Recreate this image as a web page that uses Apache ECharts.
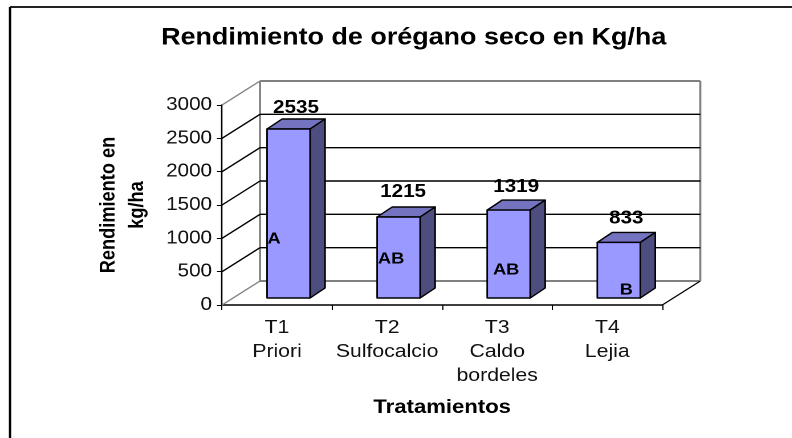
<!DOCTYPE html>
<html>
<head>
<meta charset="utf-8">
<style>html,body{margin:0;padding:0;background:#fff;overflow:hidden}#c{height:438px;transform-origin:0 0}</style>
<script src="https://cdn.jsdelivr.net/npm/echarts@6/dist/echarts.min.js"></script>
</head>
<body>
<div id="c"></div>
<script>
const categories = ['T1\nPriori', 'T2\nSulfocalcio', 'T3\nCaldo\nbordeles', 'T4\nLejia'];
const yields = [2535, 1215, 1319, 833];
const letters = ['A', 'AB', 'AB', 'B'];
const letterLevels = [900, 600, 435, 135];
const yTicks = [0, 500, 1000, 1500, 2000, 2500, 3000];

// The reference image is stretched horizontally; the page reproduces that stretch.
const XS = 1.14;
const X = px => px / XS;
const letterShift = [7, 14, 19, 29];
const labelLift = [11, 15, 13, 14];
const labelShift = [0, -3, 0, 0];
const FONT = '"Liberation Sans", Arial, sans-serif';
const WALL_DX = X(38), WALL_DY = 24;
const BAR_DX = X(15), BAR_DY = 10, BAR_W = X(43), BASE_DX = X(11.5), BASE_DY = 7;
const GREY = '#808080', INK = '#000';

const host = document.getElementById('c');
host.style.width = X(792) + 'px';
host.style.transform = 'scaleX(' + XS + ')';

function wallItem(params, api) {
  const v = api.value(0), cs = params.coordSys;
  const y = api.coord([0, v])[1];
  const x0 = cs.x, x1 = cs.x + cs.width;
  const edge = v === 0 || v === yTicks[yTicks.length - 1];
  const col = edge ? GREY : INK;
  const kids = [
    { type: 'line', shape: { x1: x0, y1: y, x2: x0 + WALL_DX, y2: y - WALL_DY }, style: { stroke: col, lineWidth: 1.3 } },
    { type: 'line', shape: { x1: x0 + WALL_DX, y1: y - WALL_DY, x2: x1 + WALL_DX, y2: y - WALL_DY }, style: { stroke: col, lineWidth: edge ? 2 : 1.4 } }
  ];
  if (v === 0) {
    kids.push({ type: 'line', shape: { x1: x1, y1: y, x2: x1 + WALL_DX, y2: y - WALL_DY }, style: { stroke: INK, lineWidth: 1.1 } });
    const top = api.coord([0, yTicks[yTicks.length - 1]])[1] - WALL_DY;
    kids.push({ type: 'line', shape: { x1: x0 + WALL_DX, y1: y - WALL_DY, x2: x0 + WALL_DX, y2: top }, style: { stroke: GREY, lineWidth: 1.8 } });
    kids.push({ type: 'line', shape: { x1: x1 + WALL_DX, y1: y - WALL_DY, x2: x1 + WALL_DX, y2: top }, style: { stroke: GREY, lineWidth: 1.8 } });
  }
  return { type: 'group', children: kids };
}

function barItem(params, api) {
  const i = params.dataIndex;
  const top = api.coord([i, api.value(1)]);
  const bot = api.coord([i, 0]);
  const l = bot[0] + BASE_DX - BAR_W / 2, r = l + BAR_W;
  const b = bot[1] - BASE_DY, t = top[1] - BASE_DY;
  const edge = { stroke: INK, lineWidth: 1.4, lineJoin: 'round' };
  const levelY = api.coord([i, letterLevels[i]])[1] - BASE_DY;
  return { type: 'group', children: [
    { type: 'polygon', shape: { points: [[l, t], [l + BAR_DX, t - BAR_DY], [r + BAR_DX, t - BAR_DY], [r, t]] }, style: { fill: '#7373BF', ...edge } },
    { type: 'polygon', shape: { points: [[r, t], [r + BAR_DX, t - BAR_DY], [r + BAR_DX, b - BAR_DY], [r, b]] }, style: { fill: '#4D4D80', ...edge } },
    { type: 'rect', shape: { x: l, y: t, width: BAR_W, height: b - t }, style: { fill: '#9999FF', ...edge } },
    { type: 'text', style: { x: l + BAR_W / 2 + BAR_DX / 2 + X(labelShift[i]), y: t - BAR_DY - labelLift[i], text: String(api.value(1)), fill: INK, font: 'bold 18.1px ' + FONT, align: 'center', verticalAlign: 'middle' } },
    { type: 'text', style: { x: l + X(letterShift[i]), y: levelY + 1, text: letters[i], fill: INK, font: 'bold 16px ' + FONT, align: 'center', verticalAlign: 'middle' } }
  ] };
}

const chart = echarts.init(host, null, { renderer: 'canvas', devicePixelRatio: 2 });
chart.setOption({
  animation: false,
  backgroundColor: '#fff',
  title: {
    text: 'Rendimiento de orégano seco en Kg/ha',
    left: X(408), top: 21, textAlign: 'center',
    textStyle: { fontFamily: FONT, fontWeight: 'bold', fontSize: 23.6, color: INK }
  },
  grid: { left: X(222), right: X(130), top: 105, bottom: 133 },
  xAxis: {
    type: 'category', data: categories, boundaryGap: true,
    name: 'Tratamientos', nameLocation: 'middle', nameGap: 93,
    nameTextStyle: { fontFamily: FONT, fontWeight: 'bold', fontSize: 19.4, color: INK },
    axisLine: { lineStyle: { color: INK, width: 1.5 } },
    axisTick: { show: true, alignWithLabel: false, length: 5, lineStyle: { color: INK, width: 1 } },
    axisLabel: { fontFamily: FONT, fontSize: 18.6, color: '#111', lineHeight: 24, margin: 11, interval: 0 }
  },
  yAxis: {
    type: 'value', min: 0, max: 3000, interval: 500,
    name: 'Rendimiento en\nkg/ha', nameLocation: 'middle', nameRotate: 90, nameGap: X(70),
    nameTextStyle: { fontFamily: FONT, fontWeight: 'bold', fontSize: 18.2, color: INK, lineHeight: 25.4 },
    axisLine: { show: true, lineStyle: { color: INK, width: 1.3 } },
    axisTick: { show: true, length: X(5), lineStyle: { color: INK, width: 1 } },
    axisLabel: { fontFamily: FONT, fontSize: 18.1, color: '#111', margin: X(10), padding: [3, 0, 0, 0], formatter: v => String(v) },
    splitLine: { show: false }
  },
  series: [
    { type: 'custom', coordinateSystem: 'cartesian2d', data: yTicks.map(v => [v]), encode: { y: 0 }, renderItem: wallItem, silent: true, z: 1, clip: false },
    { type: 'custom', coordinateSystem: 'cartesian2d', data: yields.map((v, i) => [i, v]), encode: { x: 0, y: 1 }, renderItem: barItem, silent: true, z: 3, clip: false }
  ],
  graphic: [
    { type: 'line', shape: { x1: X(10), y1: 7, x2: X(792), y2: 7 }, style: { stroke: '#222', lineWidth: 2 }, silent: true },
    { type: 'line', shape: { x1: X(10), y1: 7, x2: X(10), y2: 438 }, style: { stroke: '#000', lineWidth: 2 }, silent: true }
  ]
});
</script>
</body>
</html>
